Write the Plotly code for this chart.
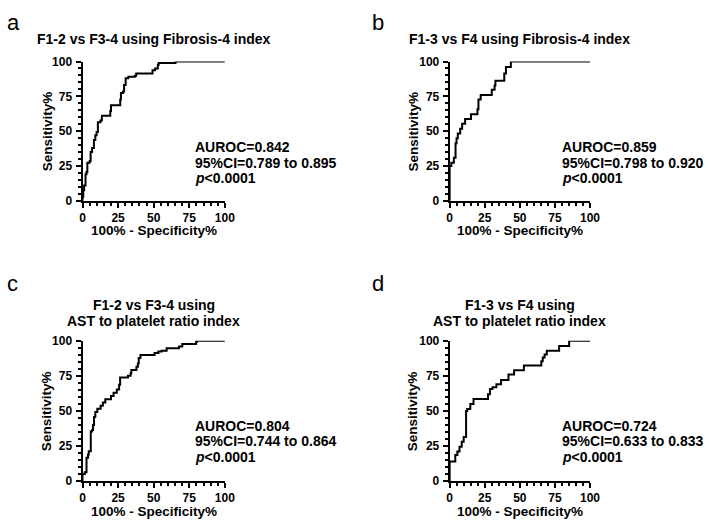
import plotly.graph_objects as go

# ---- data (100% - specificity %, sensitivity %) : step corners ----
a_fpr = [0, 0, 0.5, 1.1, 2.1, 2.8, 3.4, 5.0, 5.7, 6.7, 8.0, 9.0, 9.9, 10.8, 12.6, 13.6, 19.5, 20.0,
         26.5, 27.0, 28.5, 29.2, 30.3, 32.2, 36.8, 37.7, 49.2, 51.0, 52.9, 53.5, 65.3, 100]
a_tpr = [0, 2.8, 7.5, 11, 19, 20.6, 27.3, 28.5, 35, 37.8, 43.6, 47, 49.4, 56.4, 57.6, 61, 64.5, 68.5,
         72.7, 77.4, 78.5, 83.2, 87.9, 89, 89.7, 91.4, 93.7, 94.9, 97.7, 98.9, 100, 100]

b_fpr = [0, 0, 1.2, 3.0, 4.2, 4.9, 5.8, 7.5, 8.9, 11.0, 15.2, 19.8, 20.5, 22.1, 30.0, 32.0, 32.6,
         38.9, 40.1, 43.6, 100]
b_tpr = [0, 25, 27.3, 30.8, 41.3, 44.8, 48.3, 51.7, 55.2, 58.7, 62.2, 65.7, 72.7, 76.0, 79.7, 82.7,
         86.2, 91.4, 96.0, 100, 100]

c_fpr = [0, 0, 1.6, 2.8, 3.9, 4.4, 5.8, 6.7, 7.4, 8.1, 9.0, 10.4, 12.7, 14.3, 16.0, 20.0, 21.8, 24.1,
         25.7, 26.4, 31.9, 33.8, 34.3, 37.9, 38.9, 39.5, 40.7, 50.6, 53.3, 55.6, 59.1, 67.8, 70.1,
         79.8, 80.5, 100]
c_tpr = [0, 5, 6.3, 16.7, 19, 21.3, 35.3, 36.4, 40, 45.7, 49.2, 51.5, 53.8, 56, 58.3, 60.6, 63, 65.3,
         68.7, 73.8, 75.2, 76.9, 79.2, 81.5, 83.8, 87.7, 90, 91.4, 92.4, 93, 94.7, 96, 97.7,
         99.3, 100, 100]

d_fpr = [0, 0, 4.0, 5.5, 7.0, 8.6, 10.0, 11.7, 12.5, 14.7, 17.0, 27.3, 28.7, 30.5, 33.3, 36.6, 41.9,
         45.9, 52.9, 65.3, 66.3, 67.6, 69.2, 78.0, 85.1, 100]
d_tpr = [0, 14, 18.5, 21, 24.5, 28, 31.5, 50, 51.4, 55, 58.5, 62, 65.7, 67, 69, 72, 76,
         79, 82.4, 85.4, 88.2, 90.3, 93, 96.3, 100, 100]

panel_letters = ["a", "b", "c", "d"]
titles = ["F1-2 vs F3-4 using Fibrosis-4 index",
          "F1-3 vs F4 using Fibrosis-4 index",
          "F1-2 vs F3-4 using<br>AST to platelet ratio index",
          "F1-3 vs F4 using<br>AST to platelet ratio index"]
auroc = ["0.842", "0.859", "0.804", "0.724"]
ci = ["0.789 to 0.895", "0.798 to 0.920", "0.744 to 0.864", "0.633 to 0.833"]
tick_vals = [0, 25, 50, 75, 100]
tick_text = ["0", "25", "50", "75", "100"]

W, H = 709, 526
FONT = "Liberation Sans, Arial, sans-serif"

# plot-area pixel boxes (left, right, top, bottom)
boxes = [(81, 226, 56, 199), (455, 598, 56, 199), (81, 226, 343, 487), (455, 598, 343, 487)]

fig = go.Figure()
series = [(a_fpr, a_tpr), (b_fpr, b_tpr), (c_fpr, c_tpr), (d_fpr, d_tpr)]

def px(x):
    return x / W

def py(y):
    return 1 - y / H

annotations = []
for i, ((fx, ty), (l, r, t, b)) in enumerate(zip(series, boxes)):
    k = "" if i == 0 else str(i + 1)
    fig.add_trace(go.Scatter(x=fx, y=ty, mode="lines", line=dict(color="black", width=2, shape="hv"),
                             xaxis="x" + k, yaxis="y" + k, showlegend=False, hoverinfo="skip"))
    ax = dict(range=[0, 100], tickvals=tick_vals, ticktext=tick_text, ticks="outside", ticklen=5,
              tickwidth=2, tickcolor="black", showline=True, linewidth=2, linecolor="black",
              showgrid=False, zeroline=False, fixedrange=True,
              tickfont=dict(family=FONT, size=12, color="black", weight="bold"),
              minor=dict(dtick=5, ticks="outside", ticklen=3, tickwidth=1.5, tickcolor="black"))
    xa = dict(ax, domain=[px(l), px(r)], anchor="y" + k)
    ya = dict(ax, domain=[py(b), py(t)], anchor="x" + k, ticklabelstandoff=1)
    fig.layout["xaxis" + k] = xa
    fig.layout["yaxis" + k] = ya

    cx = (l + r) / 2
    # panel letter
    lx = 2 if i % 2 == 0 else 374
    ly = 16 if i < 2 else 284
    annotations.append(dict(text=panel_letters[i], x=px(lx), y=py(ly), xanchor="left", yanchor="middle",
                            font=dict(family=FONT, size=22, color="black")))
    # title
    if i < 2:
        annotations.append(dict(text=titles[i], x=px(cx), y=py(33), xanchor="center", yanchor="middle",
                                font=dict(family=FONT, size=14, color="black", weight="bold")))
    else:
        for j, line in enumerate(titles[i].split("<br>")):
            annotations.append(dict(text=line, x=px(cx), y=py(306 + 17 * j), xanchor="center",
                                    yanchor="middle",
                                    font=dict(family=FONT, size=14, color="black", weight="bold")))
    # axis titles
    yx = 45 if i % 2 == 0 else 418
    annotations.append(dict(text="Sensitivity%", x=px(yx), y=py((t + b) / 2), textangle=-90,
                            xanchor="center", yanchor="middle",
                            font=dict(family=FONT, size=13.5, color="black", weight="bold")))
    annotations.append(dict(text="100% - Specificity%", x=px(cx), y=py(b + 31), xanchor="center",
                            yanchor="middle",
                            font=dict(family=FONT, size=13.5, color="black", weight="bold")))
    # stats
    sx = 194 if i % 2 == 0 else 567
    sy = 144 if i < 2 else 430
    stats = ["AUROC=" + auroc[i], "95%CI=" + ci[i], "<i>p</i>&lt;0.0001"]
    for j, s in enumerate(stats):
        annotations.append(dict(text=s, x=px(sx), y=py(sy + 16 * j), xanchor="left", yanchor="middle",
                                font=dict(family=FONT, size=14, color="black", weight="bold")))

for an in annotations:
    an.update(xref="paper", yref="paper", showarrow=False)

fig.update_layout(width=W, height=H, margin=dict(l=0, r=0, t=0, b=0),
                  paper_bgcolor="white", plot_bgcolor="white", annotations=annotations,
                  font=dict(family=FONT, color="black"))

fig.write_html("out.html", config={"displayModeBar": False},
               post_script="document.body.style.margin='0';document.body.style.overflow='hidden';")
